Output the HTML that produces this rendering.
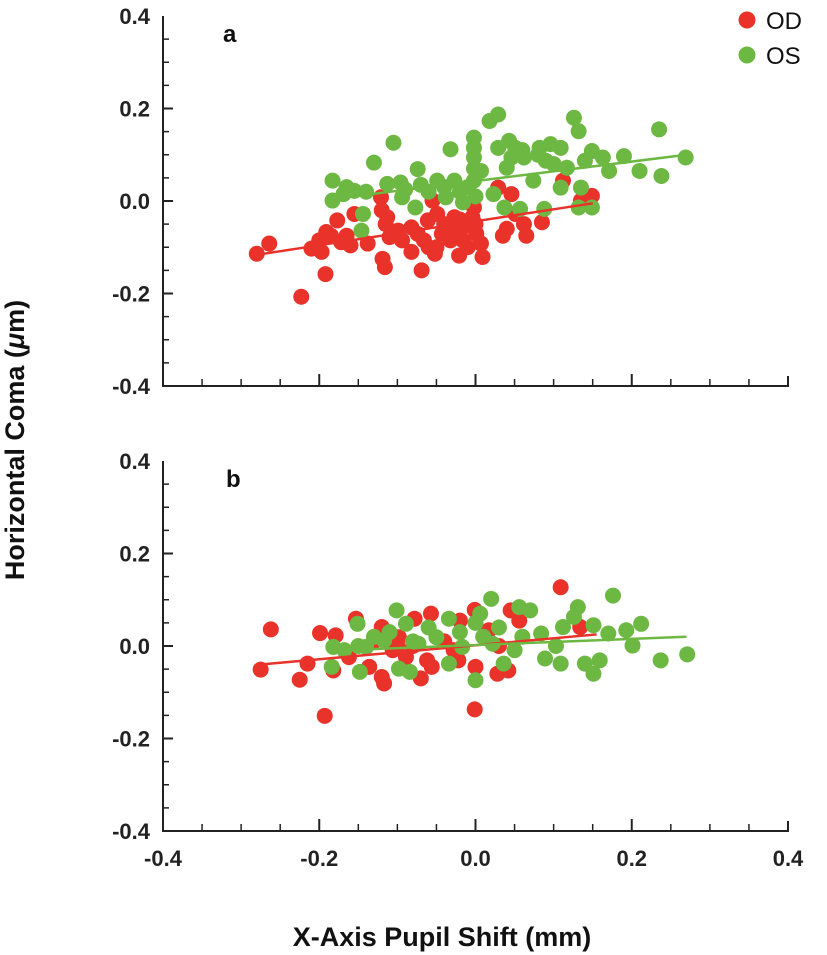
<!DOCTYPE html>
<html><head><meta charset="utf-8"><style>
html,body{margin:0;padding:0;background:#fff;}
svg{display:block;font-family:"Liberation Sans",Arial,sans-serif;}
</style></head><body>
<svg id="chart" width="827" height="955" viewBox="0 0 827 955" xmlns="http://www.w3.org/2000/svg">
<text x="0" y="0" transform="translate(24,440) rotate(-90)" text-anchor="middle" font-size="27" font-weight="bold" fill="#111">Horizontal Coma (<tspan font-style="italic">μ</tspan>m)</text>
<text x="442" y="946" text-anchor="middle" font-size="27" font-weight="bold" fill="#111">X-Axis Pupil Shift (mm)</text>
<g>
<circle cx="747" cy="20" r="8.5" fill="#e8322a"/>
<text x="766" y="29" font-size="24" fill="#111">OD</text>
<circle cx="747" cy="55" r="8.5" fill="#6cb842"/>
<text x="766" y="64" font-size="24" fill="#111">OS</text>
</g>
</svg>
<script>
const xTicks=[-0.4,-0.2,0.0,0.2,0.4];
const yTicks=[-0.4,-0.2,0.0,0.2,0.4];
const tickLabels=["-0.4","-0.2","0.0","0.2","0.4"];
const odA_x=[-0.28,-0.264,-0.223,-0.192,-0.21,-0.197,-0.191,-0.177,-0.172,-0.155,-0.16,-0.138,-0.119,-0.116,-0.121,-0.113,-0.11,-0.099,-0.082,-0.069,-0.074,-0.061,-0.055,-0.052,-0.043,-0.032,-0.021,-0.016,-0.004,0.001,0.009,0.007,-0.002,0.029,0.035,0.046,0.051,0.065,0.085,0.112,0.149,0.135,0.062,-0.032,-0.066,-0.082,-0.049,-0.027,-0.016,-0.094,-0.12,-0.115,-0.05,-0.04,-0.01,-0.06,-0.03,0.0,-0.02,0.04,-0.185,-0.165,-0.2];
const odA_y=[-0.114,-0.092,-0.207,-0.158,-0.103,-0.11,-0.067,-0.042,-0.089,-0.028,-0.096,-0.092,-0.125,-0.143,0.008,-0.035,-0.078,-0.064,-0.11,-0.15,-0.071,-0.042,0.001,-0.114,-0.071,-0.057,-0.118,-0.085,-0.035,-0.071,-0.121,-0.092,-0.014,0.029,-0.075,0.015,-0.028,-0.075,-0.046,0.044,0.011,0.001,-0.05,-0.085,-0.085,-0.057,-0.028,-0.035,-0.057,-0.085,-0.02,-0.05,-0.1,-0.05,-0.1,-0.1,-0.075,-0.05,-0.04,-0.06,-0.075,-0.075,-0.085];
const osA_x=[-0.183,-0.183,-0.169,-0.155,-0.144,-0.146,-0.13,-0.105,-0.113,-0.096,-0.094,-0.077,-0.074,-0.049,-0.032,-0.038,-0.027,-0.016,-0.002,-0.002,-0.002,0.007,0.018,0.029,0.029,0.023,0.043,0.046,0.04,0.051,0.062,0.074,0.082,0.096,0.109,0.109,0.126,0.132,0.135,0.132,0.149,0.149,0.163,0.171,0.19,0.21,0.235,0.238,0.269,0.14,0.117,0.09,0.037,0.057,0.088,-0.06,-0.01,-0.002,-0.002,0.0,-0.02,-0.04,-0.07,-0.09,0.06,0.08,0.1,-0.165,-0.14];
const osA_y=[0.044,0.001,0.015,0.022,-0.028,-0.064,0.083,0.126,0.037,0.04,0.008,-0.014,0.069,0.044,0.112,0.008,0.044,-0.003,0.137,0.094,0.044,0.065,0.173,0.187,0.115,0.015,0.13,0.094,0.072,0.115,0.094,0.044,0.115,0.123,0.115,0.029,0.18,0.151,0.029,-0.014,-0.014,0.108,0.094,0.065,0.097,0.065,0.155,0.054,0.094,0.087,0.072,0.087,-0.014,-0.017,-0.017,0.02,0.03,0.115,0.07,0.01,0.02,0.03,0.035,0.025,0.11,0.1,0.08,0.03,0.02];
const odB_x=[-0.275,-0.262,-0.225,-0.215,-0.199,-0.193,-0.179,-0.182,-0.153,-0.162,-0.136,-0.12,-0.117,-0.12,-0.106,-0.098,-0.078,-0.07,-0.057,-0.056,-0.062,-0.02,-0.022,-0.001,-0.001,0.0,0.028,0.042,0.045,0.056,0.109,0.134,0.017,-0.028,-0.089,-0.106,-0.1,-0.08,-0.04,0.01,0.03,-0.13];
const odB_y=[-0.051,0.036,-0.073,-0.038,0.028,-0.151,0.023,-0.053,0.059,-0.024,-0.045,0.041,-0.081,-0.067,-0.009,0.019,0.059,-0.07,0.07,-0.045,-0.031,0.055,-0.031,0.078,-0.137,-0.045,-0.06,-0.053,0.077,0.055,0.127,0.041,0.034,-0.009,-0.024,0.019,0.0,0.0,0.01,0.02,0.0,0.01];
const osB_x=[-0.184,-0.182,-0.168,-0.151,-0.148,-0.14,-0.117,-0.101,-0.098,-0.084,-0.089,-0.073,-0.05,-0.034,-0.034,-0.017,0.0,0.006,0.02,0.022,0.036,0.056,0.07,0.05,0.084,0.089,0.103,0.109,0.112,0.131,0.126,0.14,0.151,0.151,0.159,0.17,0.176,0.193,0.201,0.212,0.237,0.271,-0.13,-0.11,-0.06,-0.02,0.0,0.01,0.03,0.06,-0.08,-0.15];
const osB_y=[-0.045,-0.002,-0.009,0.048,-0.056,-0.002,0.012,0.077,-0.049,-0.056,0.048,0.005,0.019,0.059,-0.038,-0.002,-0.074,0.07,0.102,0.005,-0.038,0.084,0.077,-0.009,0.027,-0.027,0.0,-0.038,0.041,0.084,0.063,-0.038,0.045,-0.06,-0.031,0.027,0.109,0.034,0.001,0.048,-0.031,-0.018,0.02,0.03,0.04,0.03,0.05,0.02,0.04,0.02,0.01,0.0];
const fitA_od=[[-0.275,-0.115],[0.15,-0.005]];
const fitA_os=[[-0.18,0.005],[0.27,0.1]];
const fitB_od=[[-0.275,-0.04],[0.155,0.025]];
const fitB_os=[[-0.18,-0.01],[0.27,0.02]];

const NS="http://www.w3.org/2000/svg";
const svg=document.getElementById('chart');
function mk(tag,attrs,parent){const e=document.createElementNS(NS,tag);for(const k in attrs)e.setAttribute(k,attrs[k]);(parent||svg).appendChild(e);return e;}
const X0=163,X1=788;
function sx(v){return X0+(v+0.4)/0.8*(X1-X0);}
function panel(name,top,bottom,label,odx,ody,osx,osy,fod,fos){
  const g=mk('g',{});
  
  
  const sy=v=>top+(0.4-v)/0.8*(bottom-top);
  const ax=mk('path',{d:`M${X0},${top} V${bottom} H${X1} V${bottom-10}`,fill:'none',stroke:'#222','stroke-width':2},g);
  
  
  for(let i=0;i<=16;i++){
    const v=-0.4+i*0.05;const major=i%4===0;
    const x=sx(v);const y=sy(v);
    if(i>0&&i<16){const t=mk('line',{x1:x,x2:x,y1:bottom,y2:bottom-(major?12:7),stroke:'#222','stroke-width':major?2:1.5},g);
      
      }
    if(i<16){const t2=mk('line',{x1:X0,x2:X0+(major?10:6),y1:y,y2:y,stroke:'#222','stroke-width':major?2:1.5},g);
      
      }
  }
  yTicks.forEach((v,i)=>{const t=mk('text',{x:150,y:sy(v)+8,'text-anchor':'end','font-size':22,'font-weight':'bold',fill:'#222'},g);t.textContent=tickLabels[i];
    
    });
  const pl=mk('text',{x:label==='a'?223:226,y:top+26,'font-size':24,'font-weight':'bold',fill:'#111'},g);pl.textContent=label;
  
  
  function series(xs,ys,col,nm){
    xs.forEach((v,i)=>{const c=mk('circle',{cx:sx(v),cy:sy(ys[i]),r:8,fill:col},g);
      
      });
  }
  function fit(f,col,nm){const l=mk('line',{x1:sx(f[0][0]),y1:sy(f[0][1]),x2:sx(f[1][0]),y2:sy(f[1][1]),stroke:col,'stroke-width':2.5},g);
    
    }
  series(odx,ody,'#e8322a','od');
  series(osx,osy,'#6cb842','os');
  fit(fod,'#e8322a','od');
  fit(fos,'#6cb842','os');
}
panel('a',16,386,'a',odA_x,odA_y,osA_x,osA_y,fitA_od,fitA_os);
panel('b',461,831,'b',odB_x,odB_y,osB_x,osB_y,fitB_od,fitB_os);
xTicks.forEach((v,i)=>{const t=mk('text',{x:sx(v),y:866,'text-anchor':'middle','font-size':22,'font-weight':'bold',fill:'#222'});t.textContent=tickLabels[i];
  
  });
</script>
</body></html>
